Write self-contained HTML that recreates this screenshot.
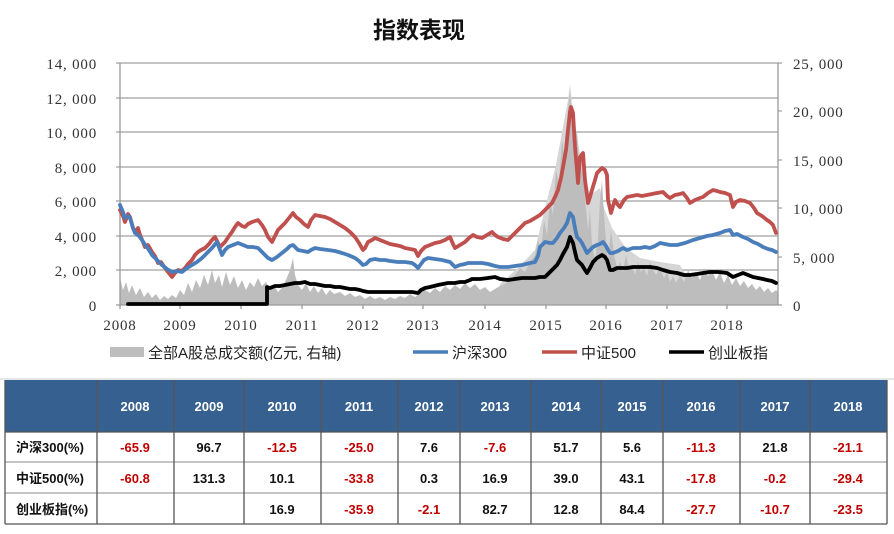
<!DOCTYPE html>
<html>
<head>
<meta charset="utf-8">
<style>
html,body{margin:0;padding:0;background:#fff;}
body{width:894px;height:534px;overflow:hidden;position:relative;}
svg{position:absolute;left:0;top:0;}
.ax{font-family:"Liberation Serif","Noto Serif CJK SC",serif;font-size:15px;fill:#333;letter-spacing:0.8px;}
.lg{font-family:"Liberation Sans","Noto Sans CJK SC",sans-serif;font-size:15px;fill:#222;}
.th{font-family:"Liberation Sans","Noto Sans CJK SC",sans-serif;font-size:13px;font-weight:bold;fill:#fff;}
.td{font-family:"Liberation Sans","Noto Sans CJK SC",sans-serif;font-size:13px;font-weight:bold;fill:#111;}
.tr{font-family:"Liberation Sans","Noto Sans CJK SC",sans-serif;font-size:13px;font-weight:bold;fill:#c00000;}
</style>
</head>
<body>
<svg width="894" height="534" viewBox="0 0 894 534" xmlns="http://www.w3.org/2000/svg">
<!-- Title -->
<text x="419" y="38" text-anchor="middle" font-family="'Liberation Sans','Noto Sans CJK SC',sans-serif" font-size="23" font-weight="bold" fill="#111">指数表现</text>

<!-- gridlines -->
<g stroke="#a0a0a0" stroke-width="1.2">
<line x1="116" y1="63" x2="782" y2="63"/>
<line x1="116" y1="98" x2="778" y2="98"/>
<line x1="116" y1="132" x2="778" y2="132"/>
<line x1="116" y1="167" x2="778" y2="167"/>
<line x1="116" y1="201" x2="778" y2="201"/>
<line x1="116" y1="236" x2="778" y2="236"/>
<line x1="116" y1="270" x2="778" y2="270"/>
<line x1="778" y1="111" x2="782" y2="111"/>
<line x1="778" y1="160" x2="782" y2="160"/>
<line x1="778" y1="208" x2="782" y2="208"/>
<line x1="778" y1="257" x2="782" y2="257"/>
</g>

<!-- light volume spikes (2015 area) -->
<path fill="#d6d6d6" d="M500,305 L500,284 520,266 535,250 545,208 556,165 568,100 570,84 573,112 580,155 590,195 600,188 604,208 612,228 626,248 640,258 660,262 680,265 700,300 L700,305 Z"/>

<!-- volume area -->
<path fill="#bdbdbd" d="M120,305 L120,278 123,290 126,282 129,293 132,285 136,295 140,288 144,297 148,292 152,298 156,294 160,300 164,296 168,299 172,295 176,298 180,290 184,295 188,283 192,292 196,280 200,288 204,275 208,285 212,270 215,283 219,275 222,287 226,272 230,285 234,276 238,288 242,280 246,290 250,282 254,287 258,278 262,286 266,282 270,290 274,285 278,292 282,288 286,280 290,270 293,258 295,275 298,285 302,290 306,283 310,292 314,286 318,293 322,288 326,295 330,290 334,294 340,292 345,296 350,293 355,297 360,295 365,299 370,296 375,299 380,297 385,300 390,297 395,299 400,296 405,298 410,294 415,297 420,293 425,290 430,293 435,288 440,292 445,286 450,290 455,285 460,289 465,283 470,288 475,284 480,290 485,287 490,292 495,289 500,286 505,284 510,280 515,275 520,268 525,272 530,262 535,255 538,240 541,250 544,220 547,235 550,200 553,215 556,170 559,185 562,140 565,160 568,110 570,92 572,120 575,150 577,130 580,180 583,160 585,200 588,230 590,210 592,245 595,260 598,240 600,200 602,180 604,215 606,240 608,260 611,230 614,255 617,268 620,262 623,272 626,255 629,270 632,265 635,275 638,262 641,272 644,268 647,276 650,262 653,270 656,275 660,268 664,278 667,272 670,282 673,276 676,283 680,275 684,282 688,270 692,278 696,272 700,280 704,268 708,276 712,270 716,280 720,272 724,283 728,275 732,285 736,278 740,286 744,281 748,288 752,284 756,290 760,286 764,292 768,288 772,293 776,290 778,292 L778,305 Z"/>

<!-- axes -->
<g stroke="#9a9a9a" stroke-width="1.3" fill="none">
<line x1="120" y1="63" x2="120" y2="305"/>
<line x1="778" y1="63" x2="778" y2="305"/>
<line x1="116" y1="305" x2="782" y2="305"/>
<line x1="120" y1="305" x2="120" y2="309"/>
<line x1="180" y1="305" x2="180" y2="309"/>
<line x1="241" y1="305" x2="241" y2="309"/>
<line x1="302" y1="305" x2="302" y2="309"/>
<line x1="363" y1="305" x2="363" y2="309"/>
<line x1="423" y1="305" x2="423" y2="309"/>
<line x1="485" y1="305" x2="485" y2="309"/>
<line x1="546" y1="305" x2="546" y2="309"/>
<line x1="606" y1="305" x2="606" y2="309"/>
<line x1="667" y1="305" x2="667" y2="309"/>
<line x1="727" y1="305" x2="727" y2="309"/>
</g>

<!-- series -->
<g fill="none" stroke-width="3.8" stroke-linejoin="round" stroke-linecap="round">
<polyline stroke="#c0504d" points="120,210 123,216 125,222 128,214 130,217 133,228 135,232 138,228 140,235 143,242 145,247 148,245 152,252 155,256 158,263 161,262 165,268 168,272 172,277 175,273 178,270 182,271 185,268 188,264 192,260 195,255 198,252 201,250 205,248 209,244 212,240 215,237 218,243 220,247 223,244 225,242 229,236 232,232 235,227 238,223 242,226 245,227 248,224 252,222 255,221 258,220 262,225 265,230 268,237 272,242 275,236 278,230 282,226 285,223 289,218 293,213 296,217 300,220 304,224 308,227 311,220 315,215 320,216 325,217 330,219 335,222 340,225 345,228 350,232 355,237 359,243 363,250 365,248 368,242 372,240 375,238 380,240 385,242 390,244 395,245 400,246 405,248 410,249 415,250 418,256 421,251 425,247 430,245 435,243 440,242 445,240 450,237 453,244 455,248 460,245 465,242 469,238 473,235 477,237 482,238 487,235 492,232 495,235 498,237 503,239 508,240 512,236 515,233 520,228 525,223 530,221 535,218 540,215 545,210 548,207 552,203 555,197 558,190 561,178 563,167 566,150 568,130 570,112 571,107 573,113 575,147 577,170 578,183 580,157 583,153 585,180 588,203 590,197 592,190 595,180 597,173 600,170 602,168 605,170 607,175 608,200 611,213 613,206 615,200 618,205 620,207 624,200 627,197 632,196 637,195 642,196 647,195 652,194 657,193 663,192 667,196 670,198 675,195 680,194 683,193 687,198 690,203 695,200 700,198 703,197 708,193 713,190 717,191 720,192 725,193 730,195 733,207 736,202 740,200 745,201 750,203 754,208 757,213 762,216 767,220 770,222 773,225 776,233"/>
<polyline stroke="#4a7ebb" points="120,205 123,212 125,218 128,216 130,218 133,228 135,233 139,236 142,240 146,246 149,250 152,255 157,260 162,265 167,269 172,272 177,271 182,272 187,268 192,265 197,262 202,258 207,253 212,248 217,242 220,250 222,255 225,250 228,247 233,245 238,243 243,245 248,247 253,247 258,248 262,252 265,255 268,258 272,260 277,257 282,253 287,249 290,246 293,245 296,248 298,250 303,251 308,252 311,250 315,248 320,249 328,250 335,251 342,253 348,255 355,258 359,261 363,265 366,264 370,260 375,259 380,260 385,260 390,261 398,262 405,262 412,263 415,265 418,268 421,264 424,260 428,258 435,259 442,260 446,261 450,262 453,265 455,267 460,265 465,264 468,263 475,263 482,263 488,264 495,266 500,267 508,267 515,266 522,265 530,263 535,262 538,256 540,247 543,244 545,242 550,243 553,243 557,238 560,233 564,228 567,223 569,216 570,213 573,217 575,228 577,237 580,240 582,243 585,249 587,253 590,250 593,247 597,245 600,244 603,242 606,246 608,250 610,253 613,253 618,251 623,248 627,250 633,248 640,248 645,247 650,248 655,246 660,243 665,244 670,245 677,245 685,243 693,240 700,238 707,236 713,235 720,233 725,231 730,230 733,235 737,234 743,237 748,239 753,242 758,244 763,247 768,249 772,250 776,252"/>
<polyline stroke="#000" points="128,304 267,304 267,287 270,288 275,286 280,286 285,285 290,284 295,283 300,283 305,282 310,284 315,284 320,285 325,286 330,286 335,287 340,287 345,288 350,289 355,289 360,290 363,291 368,292 375,292 385,292 395,292 405,292 412,292 418,293 421,290 425,288 430,287 438,285 443,284 448,283 455,283 460,282 465,282 470,280 472,279 480,279 488,278 495,277 500,279 508,280 515,279 522,278 530,278 535,278 540,277 545,277 550,272 553,269 557,265 560,260 563,254 567,247 570,237 573,243 575,252 577,260 580,263 582,265 585,270 587,273 590,268 593,262 597,258 602,255 605,257 607,260 610,270 613,270 617,268 622,268 627,268 633,267 640,267 645,267 650,267 657,268 663,270 670,272 677,273 684,275 690,275 697,274 703,273 710,272 718,272 727,273 730,275 733,277 738,275 743,273 748,275 753,277 758,278 763,279 767,280 772,281 776,283"/>
</g>

<!-- left axis labels -->
<g class="ax" text-anchor="end">
<text x="97" y="69">14, 000</text>
<text x="97" y="104">12, 000</text>
<text x="97" y="138">10, 000</text>
<text x="97" y="173">8, 000</text>
<text x="97" y="207">6, 000</text>
<text x="97" y="242">4, 000</text>
<text x="97" y="276">2, 000</text>
<text x="97" y="311">0</text>
</g>
<!-- right axis labels -->
<g class="ax">
<text x="793" y="69">25, 000</text>
<text x="793" y="117">20, 000</text>
<text x="793" y="166">15, 000</text>
<text x="793" y="214">10, 000</text>
<text x="793" y="263">5, 000</text>
<text x="793" y="311">0</text>
</g>
<!-- x labels -->
<g class="ax" text-anchor="middle">
<text x="120" y="330">2008</text>
<text x="180" y="330">2009</text>
<text x="241" y="330">2010</text>
<text x="302" y="330">2011</text>
<text x="363" y="330">2012</text>
<text x="423" y="330">2013</text>
<text x="485" y="330">2014</text>
<text x="546" y="330">2015</text>
<text x="606" y="330">2016</text>
<text x="667" y="330">2017</text>
<text x="727" y="330">2018</text>
</g>

<!-- legend -->
<rect x="110" y="347" width="34" height="10" fill="#bdbdbd"/>
<text class="lg" x="148" y="358">全部A股总成交额(亿元, 右轴)</text>
<line x1="413" y1="352" x2="448" y2="352" stroke="#4a7ebb" stroke-width="3.4"/>
<text class="lg" x="452" y="358">沪深300</text>
<line x1="542" y1="352" x2="577" y2="352" stroke="#c0504d" stroke-width="3.4"/>
<text class="lg" x="581" y="358">中证500</text>
<line x1="669" y1="352" x2="704" y2="352" stroke="#000" stroke-width="3.4"/>
<text class="lg" x="708" y="358">创业板指</text>

<!-- table -->
<line x1="0" y1="379" x2="894" y2="379" stroke="#c8ccd2" stroke-width="1"/>
<rect x="5" y="380" width="882" height="52" fill="#35608f"/>
<g stroke="#8a8a8a" stroke-width="1">
<line x1="5" y1="462" x2="887" y2="462"/>
<line x1="5" y1="493" x2="887" y2="493"/>
</g>
<g stroke="#555" stroke-width="1.3">
<line x1="5" y1="524" x2="887" y2="524"/>
<line x1="5" y1="432" x2="887" y2="432"/>
<line x1="5" y1="380" x2="5" y2="524"/>
<line x1="97" y1="380" x2="97" y2="524"/>
<line x1="174" y1="380" x2="174" y2="524"/>
<line x1="244" y1="380" x2="244" y2="524"/>
<line x1="321" y1="380" x2="321" y2="524"/>
<line x1="398" y1="380" x2="398" y2="524"/>
<line x1="460" y1="380" x2="460" y2="524"/>
<line x1="531" y1="380" x2="531" y2="524"/>
<line x1="601" y1="380" x2="601" y2="524"/>
<line x1="663" y1="380" x2="663" y2="524"/>
<line x1="740" y1="380" x2="740" y2="524"/>
<line x1="810" y1="380" x2="810" y2="524"/>
<line x1="887" y1="380" x2="887" y2="524"/>
</g>
<g class="th" text-anchor="middle">
<text x="135" y="411">2008</text>
<text x="209" y="411">2009</text>
<text x="282" y="411">2010</text>
<text x="359" y="411">2011</text>
<text x="429" y="411">2012</text>
<text x="495" y="411">2013</text>
<text x="566" y="411">2014</text>
<text x="632" y="411">2015</text>
<text x="701" y="411">2016</text>
<text x="775" y="411">2017</text>
<text x="848" y="411">2018</text>
</g>
<g class="td">
<text x="16" y="452">沪深300(%)</text>
<text x="16" y="483">中证500(%)</text>
<text x="16" y="514">创业板指(%)</text>
</g>
<g text-anchor="middle">
<text class="tr" x="135" y="452">-65.9</text>
<text class="td" x="209" y="452">96.7</text>
<text class="tr" x="282" y="452">-12.5</text>
<text class="tr" x="359" y="452">-25.0</text>
<text class="td" x="429" y="452">7.6</text>
<text class="tr" x="495" y="452">-7.6</text>
<text class="td" x="566" y="452">51.7</text>
<text class="td" x="632" y="452">5.6</text>
<text class="tr" x="701" y="452">-11.3</text>
<text class="td" x="775" y="452">21.8</text>
<text class="tr" x="848" y="452">-21.1</text>

<text class="tr" x="135" y="483">-60.8</text>
<text class="td" x="209" y="483">131.3</text>
<text class="td" x="282" y="483">10.1</text>
<text class="tr" x="359" y="483">-33.8</text>
<text class="td" x="429" y="483">0.3</text>
<text class="td" x="495" y="483">16.9</text>
<text class="td" x="566" y="483">39.0</text>
<text class="td" x="632" y="483">43.1</text>
<text class="tr" x="701" y="483">-17.8</text>
<text class="tr" x="775" y="483">-0.2</text>
<text class="tr" x="848" y="483">-29.4</text>

<text class="td" x="282" y="514">16.9</text>
<text class="tr" x="359" y="514">-35.9</text>
<text class="tr" x="429" y="514">-2.1</text>
<text class="td" x="495" y="514">82.7</text>
<text class="td" x="566" y="514">12.8</text>
<text class="td" x="632" y="514">84.4</text>
<text class="tr" x="701" y="514">-27.7</text>
<text class="tr" x="775" y="514">-10.7</text>
<text class="tr" x="848" y="514">-23.5</text>
</g>
</svg>
</body>
</html>
